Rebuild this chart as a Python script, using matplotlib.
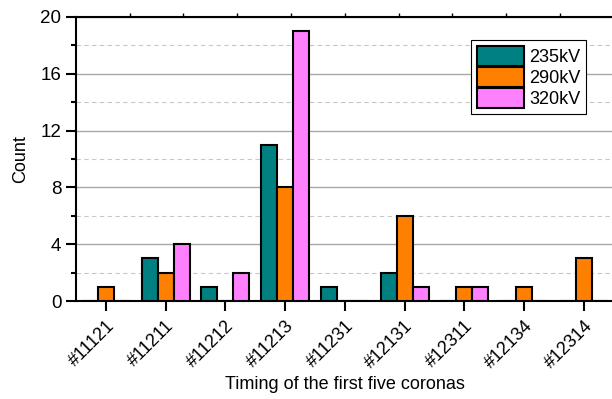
import numpy as np
import matplotlib.pyplot as plt
from matplotlib.ticker import MultipleLocator

plt.rcParams['font.family'] = ['Liberation Sans', 'DejaVu Sans']

categories = ['#11121', '#11211', '#11212', '#11213', '#11231',
              '#12131', '#12311', '#12134', '#12314']
series = ['235kV', '290kV', '320kV']
v235 = [0, 3, 1, 11, 1, 2, 0, 0, 0]
v290 = [1, 2, 0, 8, 0, 6, 1, 1, 3]
v320 = [0, 4, 2, 19, 0, 1, 1, 0, 0]
colors = ['#008080', '#FF8000', '#FF80FF']

fig = plt.figure(figsize=(6.12, 3.99), dpi=100)
ax = fig.add_axes([0.124, 0.2456, 0.879, 0.7118])

x = np.arange(1, len(categories) + 1)
w = 0.268
for i, (vals, lab, c) in enumerate(zip([v235, v290, v320], series, colors)):
    ax.bar(x + (i - 1) * w, vals, w, color=c, edgecolor='black', linewidth=1.5,
           label=lab, zorder=3)

ax.set_xlim(0.5, 9.5)
ax.set_ylim(0, 20)
ax.yaxis.set_major_locator(MultipleLocator(4))
ax.yaxis.set_minor_locator(MultipleLocator(2))
ax.grid(axis='y', which='major', color='#a8a8a8', lw=1, zorder=0)
ax.grid(axis='y', which='minor', color='#c8c8c8', lw=0.8, ls=(0, (4, 3)), zorder=0)

ax.set_xticks(x)
ax.set_xticklabels(categories, rotation=45, ha='right', rotation_mode='anchor', fontsize=13)
ax.tick_params(axis='y', which='major', length=7, width=1.5, labelsize=13.5, direction='out')
ax.tick_params(axis='y', which='minor', length=3.5, width=1.5, direction='out')
ax.tick_params(axis='x', which='major', length=7, width=1.5, pad=5, direction='out')

for s in ['left', 'bottom', 'top']:
    ax.spines[s].set_linewidth(1.5)
ax.spines['right'].set_visible(False)

top = ax.secondary_xaxis('top')
top.set_xticks(0.5 + 0.9 * np.arange(1, 11))
top.tick_params(length=3, width=1, labeltop=False, direction='out')
top.spines['top'].set_visible(False)

ax.set_ylabel('Count', fontsize=13, labelpad=8)
ax.set_xlabel('Timing of the first five coronas', fontsize=13, labelpad=3)

leg = ax.legend(loc='upper right', bbox_to_anchor=(0.948, 0.918), fontsize=13,
                frameon=True, fancybox=False, edgecolor='black', framealpha=1,
                handlelength=2.6, handleheight=1.35, handletextpad=0.3,
                labelspacing=0.05, borderpad=0.3, borderaxespad=0)
leg.get_frame().set_linewidth(0.8)

fig.savefig('out.png', dpi=100)
